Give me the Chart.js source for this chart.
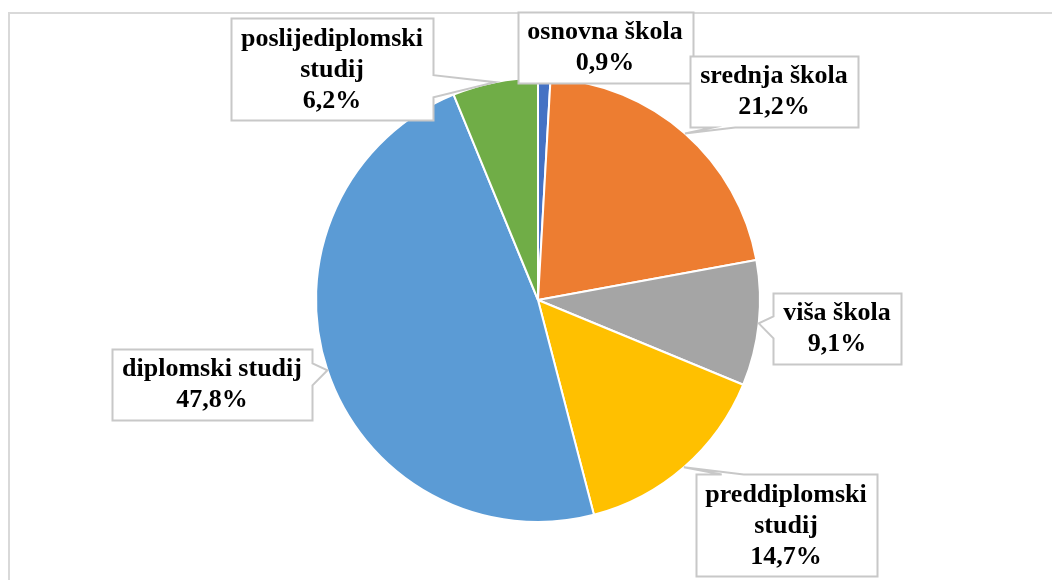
<!DOCTYPE html>
<html>
<head>
<meta charset="utf-8">
<title>Obrazovanje</title>
<script src="https://cdn.jsdelivr.net/npm/chart.js@4"></script>
<style>
  html, body { margin: 0; padding: 0; background: #fff; }
  #wrap { position: relative; width: 1052px; height: 580px; overflow: hidden; }
  #frame {
    position: absolute; left: 8px; top: 12px; right: -10px; bottom: -10px;
    border: 2px solid #d9d9d9;
  }
  #pie { position: absolute; left: 0; top: 0; }
</style>
</head>
<body>
<div id="wrap">
  <div id="frame"></div>
  <canvas id="pie" width="1052" height="580"></canvas>
</div>
<script>
// Data (clockwise from 12 o'clock)
var CATEGORIES = [
  ['osnovna škola'],
  ['srednja škola'],
  ['viša škola'],
  ['preddiplomski', 'studij'],
  ['diplomski studij'],
  ['poslijediplomski', 'studij']
];
var SHARES = [0.9, 21.2, 9.1, 14.7, 47.8, 6.2];
var COLORS = ['#4472c4', '#ed7d31', '#a5a5a5', '#ffc000', '#5b9bd5', '#70ad47'];

// Callout box centres, same order as CATEGORIES
var BOX_CENTERS = [
  [605, 47], [774, 91], [837, 328], [786, 525], [212, 384], [332, 69]
];

// Text look of the callouts
var LABEL_FONT = 'bold 26px "Liberation Serif", "Times New Roman", serif';
var LINE_H = 31;

function pct(v) { return v.toFixed(1).replace('.', ',') + '%'; }

// Build callout outline: rectangle with a wedge pointing at (tx, ty)
function calloutPath(ctx, x0, y0, x1, y1, tx, ty) {
  var half = 11;
  var side;
  if (ty < y0) { side = 'top'; }
  else if (ty > y1) { side = 'bottom'; }
  else if (tx > x1) { side = 'right'; }
  else if (tx < x0) { side = 'left'; }
  else { side = 'none'; }

  // wedge base kept a bit inside from the corners, like Excel does
  var mx = (x1 - x0) * 0.2, my = (y1 - y0) * 0.25;
  var cx = Math.min(Math.max(tx, x0 + mx), x1 - mx);
  var cy = Math.min(Math.max(ty + 4, y0 + my), y1 - my);

  ctx.beginPath();
  ctx.moveTo(x0, y0);
  if (side === 'top') { ctx.lineTo(cx - half, y0); ctx.lineTo(tx, ty); ctx.lineTo(cx + half, y0); }
  ctx.lineTo(x1, y0);
  if (side === 'right') { ctx.lineTo(x1, cy - half); ctx.lineTo(tx, ty); ctx.lineTo(x1, cy + half); }
  ctx.lineTo(x1, y1);
  if (side === 'bottom') { ctx.lineTo(cx + half, y1); ctx.lineTo(tx, ty); ctx.lineTo(cx - half, y1); }
  ctx.lineTo(x0, y1);
  if (side === 'left') { ctx.lineTo(x0, cy + half); ctx.lineTo(tx, ty); ctx.lineTo(x0, cy - half); }
  ctx.closePath();
}

// Plugin: draws Excel-like callout labels
var calloutPlugin = {
  id: 'callouts',
  afterDatasetsDraw: function(chart) {
    var ctx = chart.ctx;
    var meta = chart.getDatasetMeta(0);
    ctx.save();
    ctx.font = LABEL_FONT;
    meta.data.forEach(function(arc, i) {
      var p = arc.getProps(['x', 'y', 'startAngle', 'endAngle', 'outerRadius'], true);
      var mid = (p.startAngle + p.endAngle) / 2;
      var tx = p.x + Math.cos(mid) * p.outerRadius;
      var ty = p.y + Math.sin(mid) * p.outerRadius;

      var lines = CATEGORIES[i].concat([pct(SHARES[i])]);
      var w = 0;
      lines.forEach(function(s) { w = Math.max(w, ctx.measureText(s).width); });
      var bw = Math.round(w + 20);
      var bh = lines.length * LINE_H + 9;
      var c = BOX_CENTERS[i];
      var x0 = Math.round(c[0] - bw / 2) + 0.5, y0 = Math.round(c[1] - bh / 2) + 0.5;
      var x1 = x0 + bw, y1 = y0 + bh;

      calloutPath(ctx, x0, y0, x1, y1, tx, ty);
      ctx.fillStyle = '#ffffff';
      ctx.fill();
      ctx.lineWidth = 2;
      ctx.strokeStyle = '#c8c8c8';
      ctx.stroke();

      ctx.fillStyle = '#000000';
      ctx.textAlign = 'center';
      ctx.textBaseline = 'middle';
      var startY = c[1] - (lines.length - 1) * LINE_H / 2 + 1;
      lines.forEach(function(s, k) {
        ctx.fillText(s, c[0], startY + k * LINE_H);
      });
    });
    ctx.restore();
  }
};

new Chart(document.getElementById('pie'), {
  type: 'pie',
  data: {
    labels: CATEGORIES,
    datasets: [{
      data: SHARES,
      backgroundColor: COLORS,
      borderColor: '#ffffff',
      borderWidth: 2
    }]
  },
  options: {
    responsive: false,
    animation: false,
    events: [],
    layout: { padding: { left: 60, right: 36, top: 77, bottom: 57 } },
    plugins: {
      legend: { display: false },
      tooltip: { enabled: false }
    }
  },
  plugins: [calloutPlugin]
});
</script>
</body>
</html>
